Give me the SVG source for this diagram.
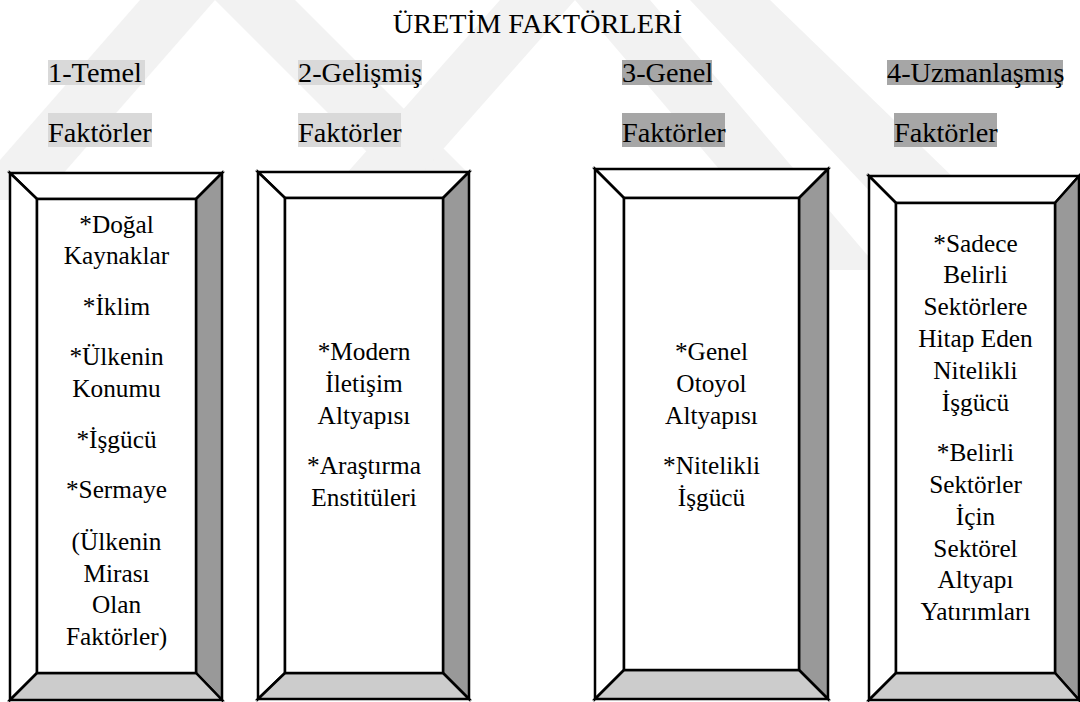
<svg xmlns="http://www.w3.org/2000/svg" width="1080" height="702" viewBox="0 0 1080 702">
  <style>
    .wm { fill: #f2f2f2; }
    .hl-light { fill: #d9d9d9; }
    .hl-dark { fill: #a6a6a6; }
    text { font-family: 'Liberation Serif', 'Times New Roman', Tinos, 'DejaVu Serif', serif; fill: #000; }
    .head { font-size: 28.3px; }
    .title { text-anchor: middle; }
    .item { font-size: 25.3px; text-anchor: middle; }
    .edge { stroke: #000; stroke-width: 2.5; stroke-linejoin: miter; }
    .face { fill: #fff; }
    .side { fill: #999999; }
    .base { fill: #cccccc; }
  </style>

  <rect width="1080" height="702" fill="#fff"/>

  <!-- faint background emblem -->
  <g id="emblem">
    <polygon class="wm" points="140,0 215,0 40,200 0,200 0,160"/>
    <polygon class="wm" points="215,0 295,0 470,175 390,175"/>
    <polygon class="wm" points="500,0 575,0 345,260 270,260"/>
    <polygon class="wm" points="575,0 650,0 880,270 805,270"/>
    <polygon class="wm" points="690,0 770,0 1080,300 1080,330 1000,330"/>
  </g>

  <!-- heading -->
  <g id="title">
    <text class="head title" x="537.5" y="33">ÜRETİM FAKTÖRLERİ</text>
  </g>

  <!-- column headings with highlight -->
  <g id="head-1">
    <rect class="hl-light" x="48" y="60" width="97" height="25"/>
    <rect class="hl-light" x="48" y="113" width="104" height="34"/>
    <text class="head" x="48" y="82">1-Temel</text>
    <text class="head" x="48" y="142">Faktörler</text>
  </g>
  <g id="head-2">
    <rect class="hl-light" x="298" y="60" width="124" height="25"/>
    <rect class="hl-light" x="298" y="113" width="103" height="34"/>
    <text class="head" x="298" y="82">2-Gelişmiş</text>
    <text class="head" x="298" y="142">Faktörler</text>
  </g>
  <g id="head-3">
    <rect class="hl-dark" x="622" y="60" width="90" height="25"/>
    <rect class="hl-dark" x="622" y="113" width="103" height="34"/>
    <text class="head" x="622" y="82">3-Genel</text>
    <text class="head" x="622" y="142">Faktörler</text>
  </g>
  <g id="head-4">
    <rect class="hl-dark" x="887" y="60" width="176" height="25"/>
    <rect class="hl-dark" x="894" y="113" width="103" height="34"/>
    <text class="head" x="887" y="82">4-Uzmanlaşmış</text>
    <text class="head" x="894" y="142">Faktörler</text>
  </g>

  <!-- bevelled boxes: outer frame, four bevel faces, inner panel -->
  <g id="box-1">
    <polygon class="face edge" points="10,173 222,173 196,199 37,199"/>
    <polygon class="face edge" points="10,173 37,199 37,673 10,700"/>
    <polygon class="side edge" points="222,173 222,700 196,673 196,199"/>
    <polygon class="base edge" points="10,700 37,673 196,673 222,700"/>
    <rect class="face edge" x="37" y="199" width="159" height="474"/>
    <text class="item" x="116.5" y="233">*Doğal</text>
    <text class="item" x="116.5" y="264">Kaynaklar</text>
    <text class="item" x="116.5" y="315">*İklim</text>
    <text class="item" x="116.5" y="365">*Ülkenin</text>
    <text class="item" x="116.5" y="397">Konumu</text>
    <text class="item" x="116.5" y="448">*İşgücü</text>
    <text class="item" x="116.5" y="498">*Sermaye</text>
    <text class="item" x="116.5" y="550">(Ülkenin</text>
    <text class="item" x="116.5" y="582">Mirası</text>
    <text class="item" x="116.5" y="613">Olan</text>
    <text class="item" x="116.5" y="645">Faktörler)</text>
  </g>

  <g id="box-2">
    <polygon class="face edge" points="258,172 469,172 443,198 285,198"/>
    <polygon class="face edge" points="258,172 285,198 285,673 258,699"/>
    <polygon class="side edge" points="469,172 469,699 443,673 443,198"/>
    <polygon class="base edge" points="258,699 285,673 443,673 469,699"/>
    <rect class="face edge" x="285" y="198" width="158" height="475"/>
    <text class="item" x="364" y="360">*Modern</text>
    <text class="item" x="364" y="392">İletişim</text>
    <text class="item" x="364" y="424">Altyapısı</text>
    <text class="item" x="364" y="474">*Araştırma</text>
    <text class="item" x="364" y="506">Enstitüleri</text>
  </g>

  <g id="box-3">
    <polygon class="face edge" points="595,169 828,169 799,198 624,198"/>
    <polygon class="face edge" points="595,169 624,198 624,670 595,699"/>
    <polygon class="side edge" points="828,169 828,699 799,670 799,198"/>
    <polygon class="base edge" points="595,699 624,670 799,670 828,699"/>
    <rect class="face edge" x="624" y="198" width="175" height="472"/>
    <text class="item" x="711.5" y="360">*Genel</text>
    <text class="item" x="711.5" y="392">Otoyol</text>
    <text class="item" x="711.5" y="424">Altyapısı</text>
    <text class="item" x="711.5" y="474">*Nitelikli</text>
    <text class="item" x="711.5" y="506">İşgücü</text>
  </g>

  <g id="box-4">
    <polygon class="face edge" points="869,176 1079,176 1055,203 896,203"/>
    <polygon class="face edge" points="869,176 896,203 896,673 869,700"/>
    <polygon class="side edge" points="1079,176 1079,700 1055,673 1055,203"/>
    <polygon class="base edge" points="869,700 896,673 1055,673 1079,700"/>
    <rect class="face edge" x="896" y="203" width="159" height="470"/>
    <text class="item" x="975.5" y="252">*Sadece</text>
    <text class="item" x="975.5" y="283">Belirli</text>
    <text class="item" x="975.5" y="315">Sektörlere</text>
    <text class="item" x="975.5" y="347">Hitap Eden</text>
    <text class="item" x="975.5" y="379">Nitelikli</text>
    <text class="item" x="975.5" y="411">İşgücü</text>
    <text class="item" x="975.5" y="461">*Belirli</text>
    <text class="item" x="975.5" y="493">Sektörler</text>
    <text class="item" x="975.5" y="525">İçin</text>
    <text class="item" x="975.5" y="557">Sektörel</text>
    <text class="item" x="975.5" y="588">Altyapı</text>
    <text class="item" x="975.5" y="620">Yatırımları</text>
  </g>
</svg>
